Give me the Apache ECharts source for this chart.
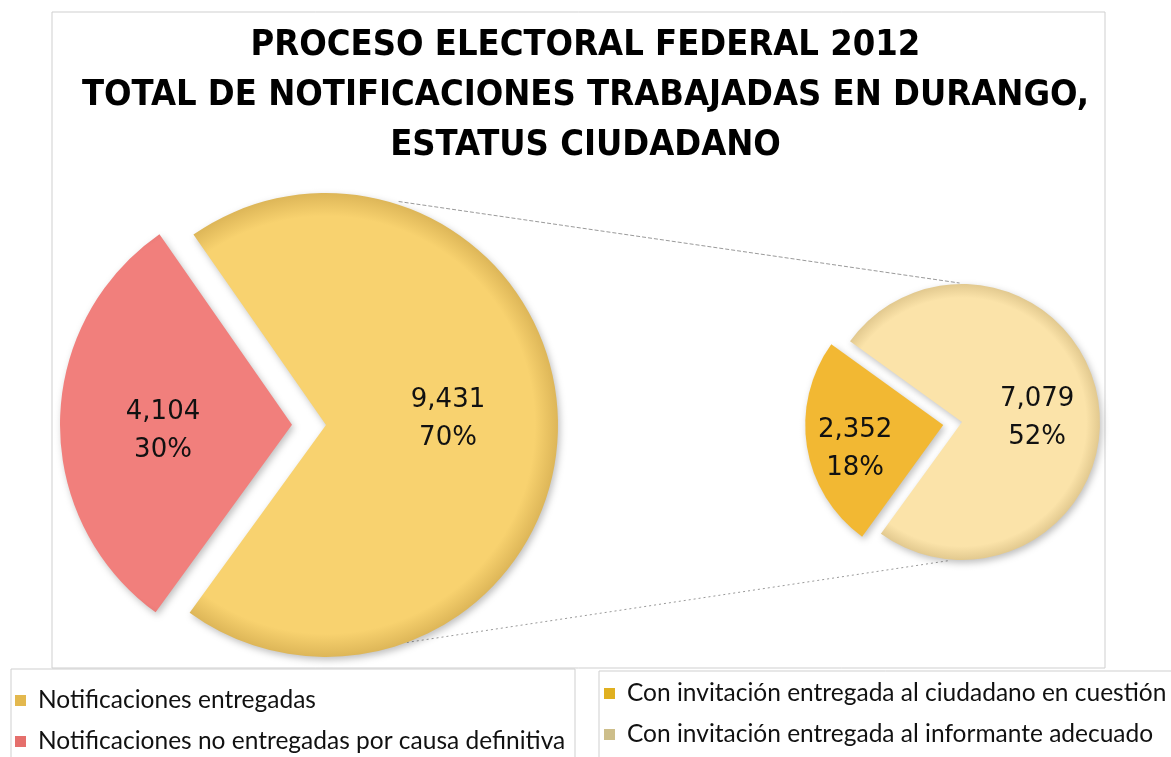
<!DOCTYPE html>
<html>
<head>
<meta charset="utf-8">
<script src="https://cdn.jsdelivr.net/npm/echarts@6/dist/echarts.min.js"></script>
<style>
  html, body { margin: 0; padding: 0; background: #fff; }
  #chart { width: 1171px; height: 757px; }
</style>
</head>
<body>
<div id="chart"></div>
<script>
// datos
const mainNames = ['Notificaciones no entregadas por causa definitiva', 'Notificaciones entregadas']
const mainValues = [4104, 9431]
const mainPct = [30, 70]

const subNames = ['Con invitación entregada al ciudadano en cuestión', 'Con invitación entregada al informante adecuado']
const subValues = [2352, 7079]
const subPct = [18, 52]

const titleLines = ['PROCESO ELECTORAL FEDERAL 2012', 'TOTAL DE NOTIFICACIONES TRABAJADAS EN DURANGO,', 'ESTATUS CIUDADANO']

const mainColors = [['#F17F7C', '#D86C69'], ['#F8D26F', '#DDB658']]
const subColors = [['#F2B833', '#D49D25'], ['#FBE3A9', '#E2C98F']]

// geometría
const mainCenter = [326, 425], mainR = 232
const subCenter = [962, 422], subR = 138

// ajuste fino de las etiquetas
const mainLabelShift = [[-10, 8], [3, -7]]
const subLabelShift = [[-17, 13], [4, 8]]

function polar(c, r, deg) {
  let a = deg * Math.PI / 180
  return [c[0] + r * Math.cos(a), c[1] - r * Math.sin(a)]
}

function fmt(v) {
  return v.toLocaleString('en-US')
}

function rimFill(c, r, pair) {
  return new echarts.graphic.RadialGradient(c[0], c[1], r, [
    {offset: 0, color: pair[0]},
    {offset: 0.9, color: pair[0]},
    {offset: 1, color: pair[1]}
  ], true)
}

let myChart = echarts.init(document.getElementById('chart'))

let sliceStyle = {
  borderWidth: 0,
  shadowBlur: 7,
  shadowOffsetX: 2,
  shadowOffsetY: 3,
  shadowColor: 'rgba(0,0,0,0.25)'
}

let labelStyle = {
  show: true,
  position: 'inside',
  fontFamily: 'DejaVu Sans',
  fontSize: 26,
  lineHeight: 38,
  color: '#111'
}

let legendText = {fontFamily: 'Lato', fontSize: 24.5, lineHeight: 24, color: '#111', padding: [0, 0, 0, 7]}

let option = {
  backgroundColor: '#fff',
  animation: false,
  title: {
    text: titleLines.join('\n'),
    left: 'center',
    top: 16,
    textStyle: {
      fontFamily: '"DejaVu Sans Condensed", sans-serif',
      fontWeight: 'bold',
      fontSize: 36,
      lineHeight: 50,
      color: '#000'
    }
  },
  legend: [
    {
      orient: 'vertical',
      left: 15,
      top: 688,
      padding: 0,
      height: 120,
      itemGap: 16,
      itemWidth: 11,
      itemHeight: 11,
      icon: 'rect',
      data: [
        {name: mainNames[1], itemStyle: {color: '#E3B84E'}},
        {name: mainNames[0], itemStyle: {color: '#E56F6C'}}
      ],
      textStyle: legendText
    },
    {
      orient: 'vertical',
      left: 604,
      top: 681,
      padding: 0,
      height: 120,
      itemGap: 16,
      itemWidth: 11,
      itemHeight: 11,
      icon: 'rect',
      data: [
        {name: subNames[0], itemStyle: {color: '#E0B020'}},
        {name: subNames[1], itemStyle: {color: '#CDBE8A'}}
      ],
      textStyle: legendText
    }
  ],
  graphic: [
    {
      type: 'rect',
      shape: {x: 52, y: 12, width: 1053, height: 656},
      style: {fill: 'none', stroke: '#cfcfcf', lineWidth: 1},
      z: -1
    },
    {
      type: 'rect',
      shape: {x: 11, y: 669, width: 564, height: 120},
      style: {fill: 'none', stroke: '#cfcfcf', lineWidth: 1},
      z: -1
    },
    {
      type: 'rect',
      shape: {x: 599, y: 671, width: 600, height: 120},
      style: {fill: 'none', stroke: '#cfcfcf', lineWidth: 1},
      z: -1
    },
    {
      type: 'line',
      shape: (function () {
        let p1 = polar(mainCenter, mainR + 3, 72), p2 = polar(subCenter, subR + 1, 91)
        return {x1: p1[0], y1: p1[1], x2: p2[0], y2: p2[1]}
      })(),
      style: {stroke: '#9a9a9a', lineWidth: 1, lineDash: [4, 2]}
    },
    {
      type: 'line',
      shape: (function () {
        let p1 = polar(mainCenter, mainR, -69.6), p2 = polar(subCenter, subR + 1, -95)
        return {x1: p1[0], y1: p1[1], x2: p2[0], y2: p2[1]}
      })(),
      style: {stroke: '#9a9a9a', lineWidth: 1, lineDash: [2, 3]}
    }
  ],
  series: [
    {
      name: 'Total',
      type: 'pie',
      center: mainCenter,
      radius: [0, mainR],
      startAngle: 234,
      selectedMode: 'single',
      selectedOffset: 34,
      emphasis: {disabled: true},
      label: Object.assign({}, labelStyle, {
        formatter: p => fmt(p.value) + '\n' + mainPct[p.dataIndex] + '%'
      }),
      labelLayout: p => ({dx: mainLabelShift[p.dataIndex][0], dy: mainLabelShift[p.dataIndex][1]}),
      labelLine: {show: false},
      itemStyle: sliceStyle,
      data: mainNames.map((n, i) => ({
        name: n,
        value: mainValues[i],
        selected: i === 0,
        itemStyle: {color: rimFill(polar(mainCenter, i === 0 ? 34 : 0, 180), mainR, mainColors[i])}
      }))
    },
    {
      name: 'Entregadas',
      type: 'pie',
      center: subCenter,
      radius: [0, subR],
      startAngle: 234,
      selectedMode: 'single',
      selectedOffset: 19,
      emphasis: {disabled: true},
      label: Object.assign({}, labelStyle, {
        formatter: p => fmt(p.value) + '\n' + subPct[p.dataIndex] + '%'
      }),
      labelLayout: p => ({dx: subLabelShift[p.dataIndex][0], dy: subLabelShift[p.dataIndex][1]}),
      labelLine: {show: false},
      itemStyle: sliceStyle,
      data: subNames.map((n, i) => ({
        name: n,
        value: subValues[i],
        selected: i === 0,
        itemStyle: {color: rimFill(polar(subCenter, i === 0 ? 19 : 0, 190), subR, subColors[i])}
      }))
    }
  ]
}

myChart.setOption(option)
</script>
</body>
</html>
